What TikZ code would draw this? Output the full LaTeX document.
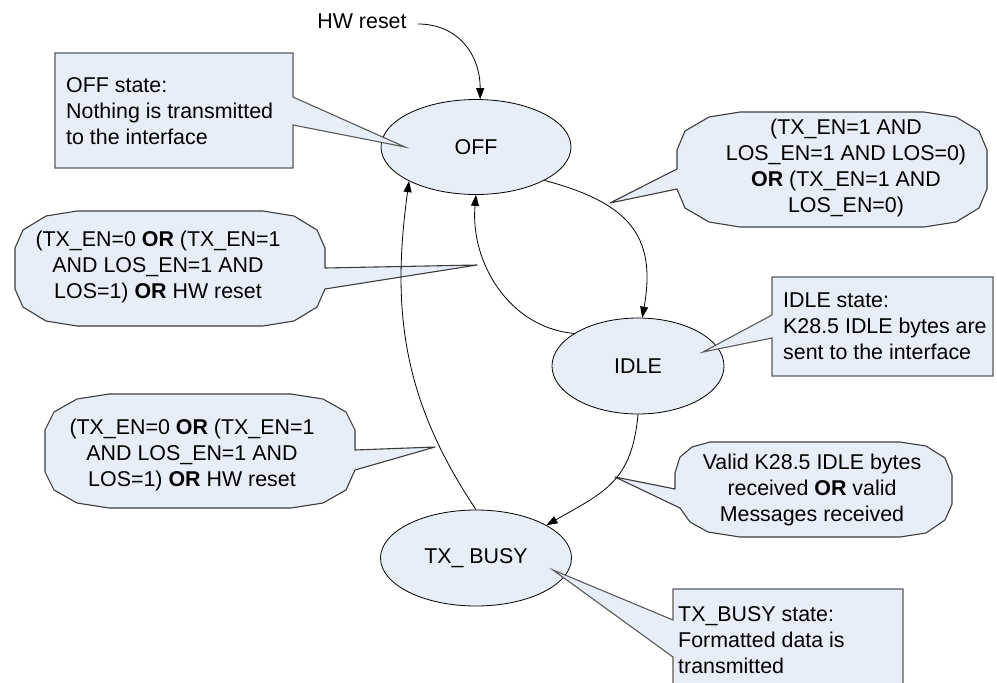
\documentclass[tikz,border=0pt]{standalone}
\usepackage{fontspec}
\setmainfont{Liberation Sans}
\usetikzlibrary{shapes.geometric,arrows.meta}
\definecolor{stfill}{RGB}{232,238,247}
\definecolor{calline}{RGB}{60,60,60}
\definecolor{boxline}{RGB}{90,90,90}
\newcommand\lbfont{\fontsize{21.4}{26}\selectfont}
\begin{document}
\begin{tikzpicture}[x=1pt,y=-1pt,
  state/.style={ellipse, draw=black, fill=stfill, line width=0.8pt, inner sep=0pt, font=\lbfont},
  arr/.style={-{Triangle[length=11pt,width=8pt]}, line width=0.8pt},
  callout/.style={draw=calline, fill=stfill, line width=1.1pt, line join=round},
  notebox/.style={draw=boxline, fill=stfill, line width=1.1pt, line join=miter},
  lbl/.style={font=\lbfont, align=center, inner sep=0pt},
  notetext/.style={font=\lbfont, align=left, anchor=west, inner sep=0pt}]
\useasboundingbox (0,0) rectangle (997,683);
\clip (0,0) rectangle (997,683);

% states
\node[state, minimum width=190pt, minimum height=95pt] (off) at (476,147) {OFF};
\node[state, minimum width=172pt, minimum height=96pt] (idle) at (638,366) {IDLE};
\node[state, minimum width=191pt, minimum height=96pt] (tx) at (476,558) {TX\_ BUSY};

% note boxes (state descriptions)
\path[notebox] (55,53) -- (293,53) -- (293,97) -- (405,147) -- (293,125) -- (293,168) -- (55,168) -- cycle;
\path[notebox] (772,277) -- (993,277) -- (993,376) -- (772,376) -- (772,338) -- (703,352) -- (772,315) -- cycle;
\path[notebox] (673,589) -- (903,589) -- (903,700) -- (673,700) -- (673,657) -- (553,570) -- (673,620) -- cycle;

% transition callouts
\path[callout] (740,112) -- (924,112) -- (956,117) -- (979,131) -- (987,150) -- (987,189) -- (979,208) -- (956,222) -- (924,227) -- (740,227) -- (709,222) -- (685,208) -- (677,189) -- (610,203) -- (677,169) -- (677,150) -- (685,131) -- (709,117) -- cycle;
\path[callout] (77,211) -- (263,211) -- (294,216) -- (317,230) -- (325,248) -- (325,268) -- (477,265) -- (325,289) -- (317,307) -- (294,321) -- (263,326) -- (77,326) -- (46,321) -- (23,307) -- (15,289) -- (15,248) -- (23,230) -- (46,216) -- cycle;
\path[callout] (109,394) -- (291,394) -- (323,399) -- (346,412) -- (355,430) -- (355,450) -- (435,447) -- (355,470) -- (346,490) -- (323,503) -- (291,508) -- (109,508) -- (77,503) -- (54,490) -- (45,472) -- (45,430) -- (54,412) -- (77,399) -- cycle;
\path[callout] (710,442) -- (900,442) -- (926,446) -- (945,458) -- (952,475) -- (952,504) -- (945,520) -- (926,533) -- (900,537) -- (740,537) -- (708,532) -- (690,522) -- (680,508) -- (615,477) -- (675,489) -- (675,473) -- (680,457) -- (692,447) -- cycle;

% texts
\node[lbl] (hw) at (362,21) {HW reset};
\node[notetext] (offnote) at (66,111) {OFF state:\\Nothing is transmitted\\to the interface};
\node[notetext] (idlenote) at (783,326) {IDLE state:\\K28.5 IDLE bytes are\\sent to the interface};
\node[notetext] (txnote) at (678,640) {TX\_BUSY state:\\Formatted data is\\transmitted};
\node[lbl] (c1t) at (846,168) {(TX\_EN=1 AND\\LOS\_EN=1 AND LOS=0)\\\textbf{OR} (TX\_EN=1 AND\\LOS\_EN=0)};
\node[lbl] (c2t) at (158,267) {(TX\_EN=0 \textbf{OR} (TX\_EN=1\\AND LOS\_EN=1 AND\\LOS=1) \textbf{OR} HW reset};
\node[lbl] (c3t) at (192,455) {(TX\_EN=0 \textbf{OR} (TX\_EN=1\\AND LOS\_EN=1 AND\\LOS=1) \textbf{OR} HW reset};
\node[lbl] (c4t) at (812,490) {Valid K28.5 IDLE bytes\\received \textbf{OR} valid\\Messages received};

% transitions
\draw[arr] ([xshift=11pt,yshift=-3pt]hw.east) .. controls +(40,0) and +(0,-45) .. (off.85);
\draw[arr] (off.-26) .. controls +(82,22) and +(15,-84) .. (idle.85);
\draw[arr] (idle.153) .. controls +(-66,-6) and +(-6,66) .. (off.south);
\draw[arr] (idle.south) .. controls +(-6,67) and +(58,-33) .. (tx.25);
\draw[arr] (tx.north) .. controls +(-73,-109) and +(-18,130) .. (off.-153);
\end{tikzpicture}
\end{document}
